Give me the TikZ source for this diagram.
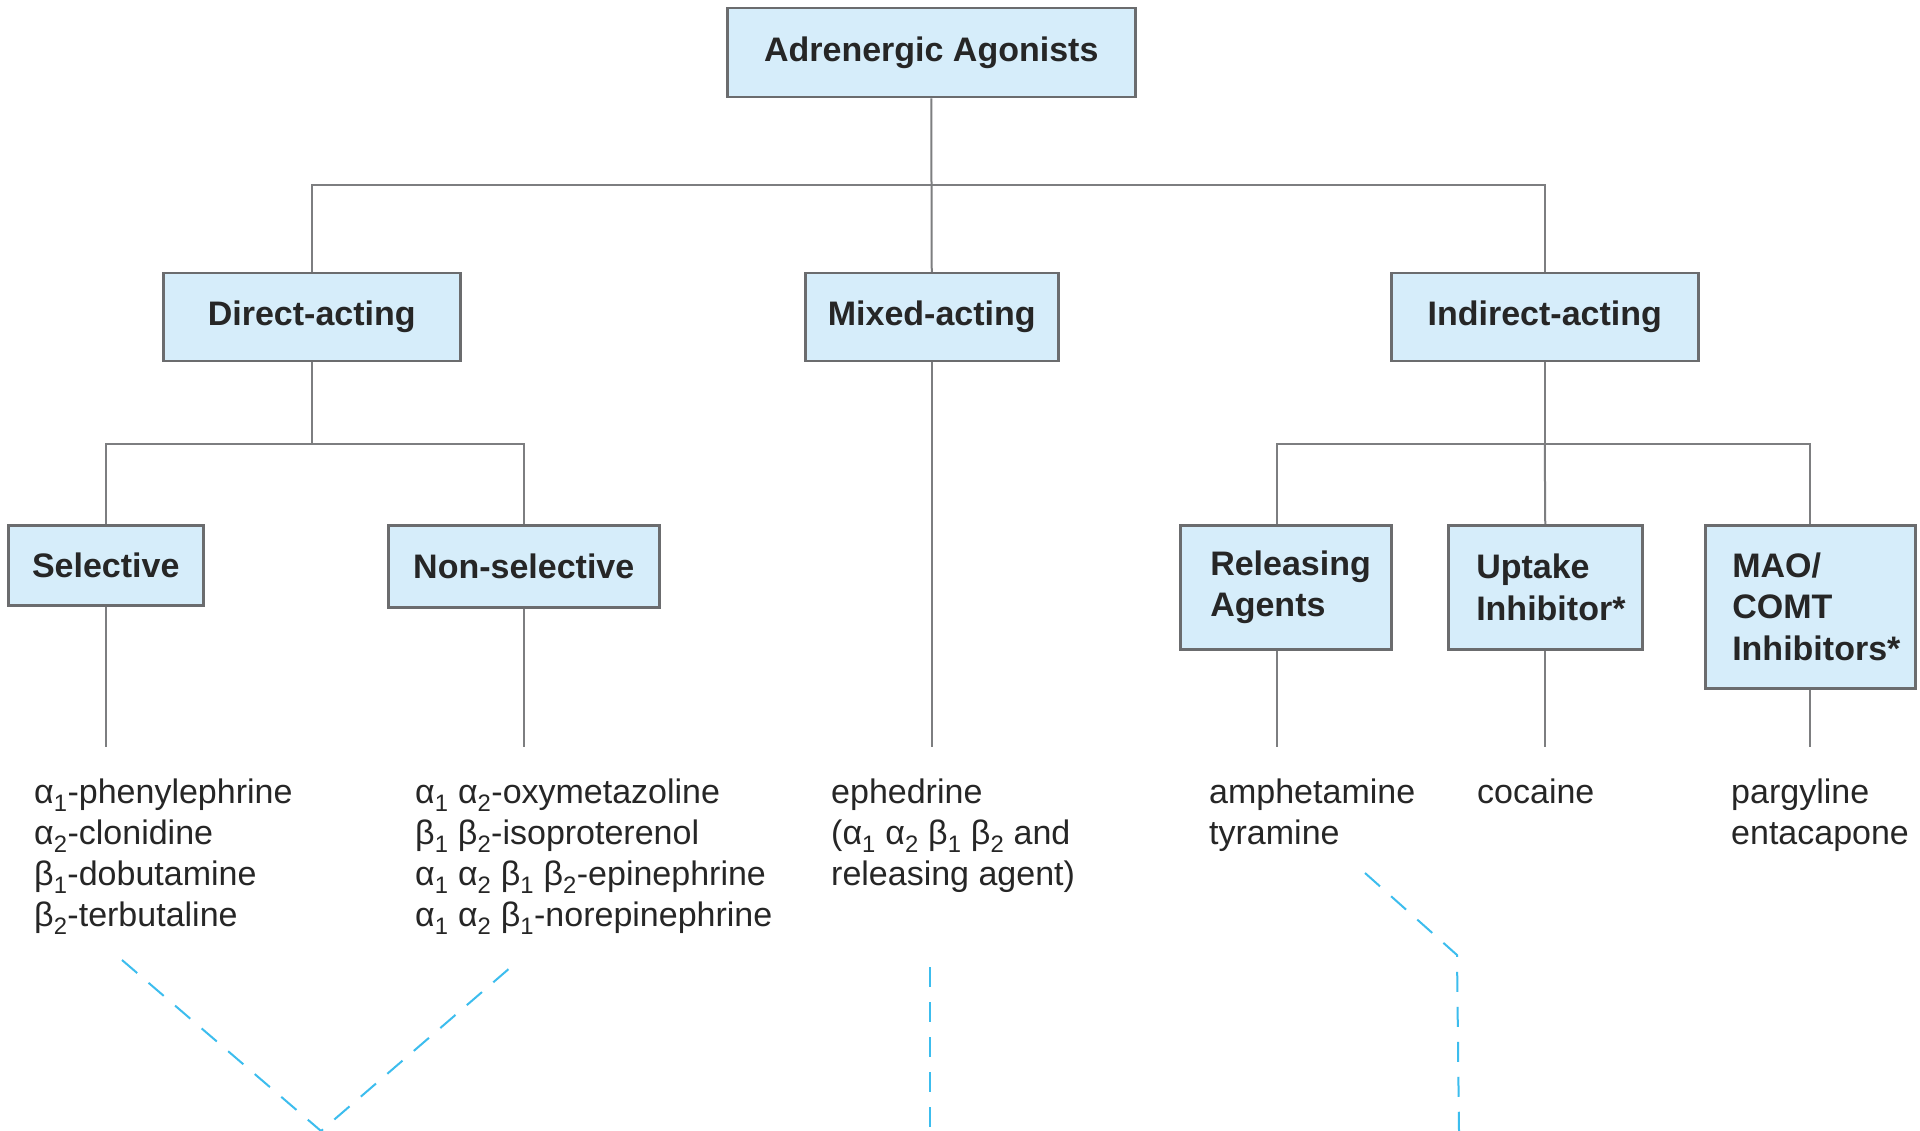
\documentclass[tikz,border=0pt]{standalone}
\usepackage{fontspec}
\setmainfont{Liberation Sans}
\definecolor{boxfill}{HTML}{D6EDFA}
\definecolor{boxline}{HTML}{6B6C6E}
\definecolor{connclr}{HTML}{7D7E80}
\definecolor{dashblue}{HTML}{3CBDEE}
\definecolor{txt}{HTML}{262626}
\newcommand\alphs[1]{α\textsubscript{#1}}
\newcommand\betas[1]{β\textsubscript{#1}}
\begin{document}
\begin{tikzpicture}[x=1pt,y=-1pt,
  box/.style={draw=boxline, line width=2.5pt, fill=boxfill, inner sep=0pt, anchor=north west,
    font=\fontsize{34}{41.5}\selectfont\bfseries, text=txt},
  connline/.style={draw=connclr, line width=2pt},
  list/.style={anchor=north west, inner sep=0pt, align=left, font=\fontsize{34}{41}\selectfont, text=txt},
  dashedline/.style={draw=dashblue, line width=2pt, dash pattern=on 20pt off 15pt}]
\fill[white] (0,0) rectangle (1920,1131);
\useasboundingbox (0,0) rectangle (1920,1131);

% boxes
\node[box, minimum width=408pt, minimum height=89pt, align=center] (top) at (726,7) {Adrenergic Agonists};
\node[box, minimum width=297pt, minimum height=88pt, align=center] (direct) at (162,272) {Direct-acting};
\node[box, minimum width=253pt, minimum height=88pt, align=center] (mixed) at (804,272) {Mixed-acting};
\node[box, minimum width=307pt, minimum height=88pt, align=center] (indirect) at (1390,272) {Indirect-acting};
\node[box, minimum width=195pt, minimum height=80pt, align=center] (sel) at (7,524) {Selective};
\node[box, minimum width=271pt, minimum height=82pt, align=center] (nonsel) at (387,524) {Non-selective};
\node[box, minimum width=211pt, minimum height=124pt, text width=211pt, align=left] (rel) at (1179,524)
  {\hspace*{30pt}Releasing\\\hspace*{30pt}Agents};
\node[box, minimum width=194pt, minimum height=124pt, text width=194pt, align=left] (upt) at (1447,524)
  {\hspace*{28pt}Uptake\\\hspace*{28pt}Inhibitor*};
\node[box, minimum width=210pt, minimum height=163pt, text width=210pt, align=left] (mao) at (1704,524)
  {\hspace*{27pt}MAO/\\\hspace*{27pt}COMT\\\hspace*{27pt}Inhibitors*};

% junction coordinates
\coordinate (j0) at (930,185);
\path (direct.south) ++(0,82) coordinate (j1);
\path (indirect.south) ++(0,82) coordinate (j2);
\coordinate (relx) at (1277,442);

% connectors
\draw[connline] (top.south) -- (mixed.north);
\draw[connline] (direct.north) |- (j0) -| (indirect.north);
\draw[connline] (direct.south) -- (j1);
\draw[connline] (sel.north) |- (j1) -| (nonsel.north);
\draw[connline] (indirect.south) -- (j2);
\draw[connline] (relx |- rel.north) |- (j2) -| (mao.north);
\draw[connline] (j2) -- (upt.north);

% lower stubs
\coordinate (sele) at (sel.south |- 0,747);
\coordinate (nonsele) at (nonsel.south |- 0,747);
\coordinate (mixede) at (mixed.south |- 0,747);
\coordinate (rele) at (relx |- 0,747);
\coordinate (upte) at (upt.south |- 0,747);
\coordinate (maoe) at (mao.south |- 0,747);
\draw[connline] (sel.south) -- (sele);
\draw[connline] (nonsel.south) -- (nonsele);
\draw[connline] (mixed.south) -- (mixede);
\draw[connline] (relx |- rel.south) -- (rele);
\draw[connline] (upt.south) -- (upte);
\draw[connline] (mao.south) -- (maoe);

% lists
\node[list] (sellist) at (34,775) {\strut\alphs{1}-phenylephrine\\\alphs{2}-clonidine\\\betas{1}-dobutamine\\\betas{2}-terbutaline};
\node[list] (nonsellist) at (415,775) {\strut\alphs{1} \alphs{2}-oxymetazoline\\\betas{1} \betas{2}-isoproterenol\\\alphs{1} \alphs{2} \betas{1} \betas{2}-epinephrine\\\alphs{1} \alphs{2} \betas{1}-norepinephrine};
\node[list] (mixedlist) at (831,775) {\strut ephedrine\\(\alphs{1} \alphs{2} \betas{1} \betas{2} and\\releasing agent)};
\node[list] (rellist) at (1209,775) {\strut amphetamine\\tyramine};
\node[list] (uptlist) at (1477,775) {\strut cocaine};
\node[list] (maolist) at (1731,775) {\strut pargyline\\entacapone};

% dashed blue lines
\coordinate (d1) at (122,960);
\coordinate (d2) at (321,1131);
\coordinate (d3) at (511,967);
\coordinate (d4) at (930,967);
\coordinate (d5) at (930,1131);
\coordinate (d6) at (1365,873);
\coordinate (d7) at (1457,955);
\coordinate (d8) at (1459,1131);
\draw[dashedline] (d1) -- (d2) -- (d3);
\draw[dashedline] (d4) -- (d5);
\draw[dashedline] (d6) -- (d7) -- (d8);
\end{tikzpicture}
\end{document}
